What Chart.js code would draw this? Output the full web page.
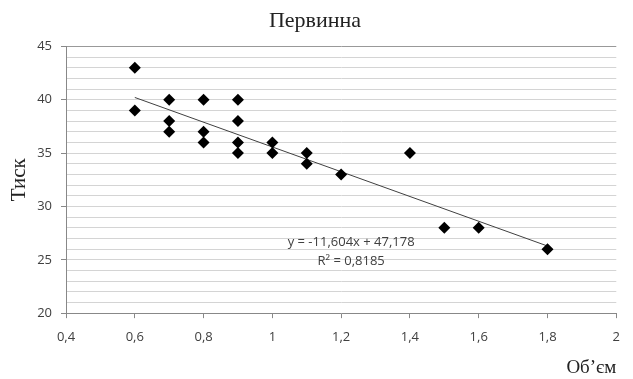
<!DOCTYPE html>
<html><head><meta charset="utf-8">
<script src="https://cdn.jsdelivr.net/npm/chart.js@4"></script>
<style>html,body{margin:0;padding:0;background:#fff}#wrap{width:633px;height:379px}</style>
</head><body><div id="wrap"><canvas id="c" width="633" height="379"></canvas></div>
<script>
const volume = [0.6,0.6,0.7,0.7,0.7,0.8,0.8,0.8,0.9,0.9,0.9,0.9,1.0,1.0,1.1,1.1,1.2,1.4,1.5,1.6,1.8];
const pressure = [43,39,40,38,37,40,37,36,40,38,36,35,36,35,35,34,33,35,28,28,26];
const trendSlope = [-11.604];
const trendIntercept = [47.178];
const trendRange = [0.6, 1.8];
const trendLabels = ["y = -11,604x + 47,178", "R\u00B2 = 0,8185"];
const xTicks = [0.4,0.6,0.8,1,1.2,1.4,1.6,1.8,2];

const points = volume.map((v,i)=>({x:v,y:pressure[i]}));
const trend = trendRange.map(x=>({x:x,y:trendSlope[0]*x+trendIntercept[0]}));

const labelPlugin = {
  id:'trendLabel',
  afterDatasetsDraw(chart){
    const {ctx, scales:{x,y}} = chart;
    ctx.save();
    ctx.fillStyle='#404040';
    ctx.font='13px "Open Sans", sans-serif';
    ctx.textAlign='center';
    ctx.textBaseline='middle';
    ctx.fillText(trendLabels[0], x.getPixelForValue(1.229), y.getPixelForValue(26.6));
    ctx.fillText(trendLabels[1], x.getPixelForValue(1.229), y.getPixelForValue(24.9));
    ctx.restore();
  }
};

new Chart(document.getElementById('c'),{
  type:'scatter',
  data:{datasets:[
    {data:points,pointStyle:'rectRot',pointRadius:6,pointHoverRadius:6,backgroundColor:'#000',borderColor:'#000',borderWidth:0,order:1},
    {type:'line',data:trend,borderColor:'#404040',borderWidth:1,pointRadius:0,fill:false,order:2}
  ]},
  options:{
    responsive:false,animation:false,
    layout:{padding:{left:7,right:10,top:4,bottom:0}},
    plugins:{
      legend:{display:false},tooltip:{enabled:false},
      title:{display:true,text:'Первинна',color:'#222',font:{family:'"Liberation Serif", serif',size:22,weight:'normal'},padding:{top:4,bottom:12}}
    },
    scales:{
      x:{type:'linear',min:0.4,max:2,
        afterBuildTicks(s){s.ticks=xTicks.map(v=>({value:v}));},
        ticks:{color:'#404040',font:{family:'"Open Sans", sans-serif',size:13,lineHeight:1},padding:13,
          callback:v=>String(Math.round(v*10)/10).replace('.',',')},
        grid:{drawOnChartArea:false,drawTicks:true,tickLength:5,color:'#888'},
        border:{color:'#888'},
        title:{display:true,text:'Об’єм',align:'end',color:'#222',font:{family:'"Liberation Serif", serif',size:19,lineHeight:1.15},padding:{top:0,bottom:0}}
      },
      y:{min:20,max:45,
        afterFit(s){s.width=59;},
        ticks:{stepSize:1,autoSkip:false,color:'#404040',font:{family:'"Open Sans", sans-serif',size:13},padding:9,
          callback:v=>(v%5===0?String(v):'')},
        grid:{color:ctx=>(ctx.tick&&ctx.tick.value===45?'#999':'#d4d4d4'),lineWidth:1,tickLength:5,
          tickColor:ctx=>(ctx.tick&&ctx.tick.value%5===0?'#888':'rgba(0,0,0,0)')},
        border:{color:'#888'},
        title:{display:true,text:'Тиск',color:'#222',font:{family:'"Liberation Serif", serif',size:21},padding:{top:0,bottom:0}}
      }
    }
  },
  plugins:[labelPlugin]
});
</script></body></html>
